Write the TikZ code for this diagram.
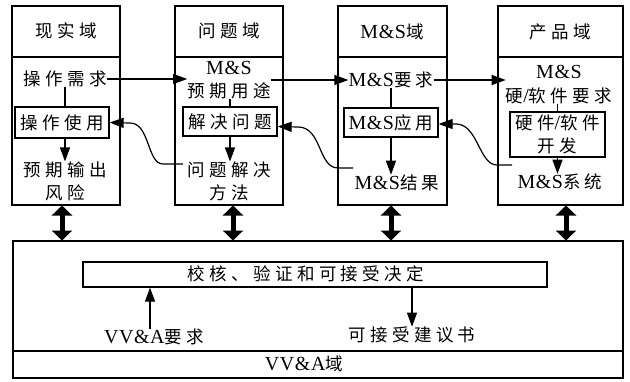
\documentclass[tikz,border=0pt]{standalone}
\usepackage{fontspec}
\setmainfont{Liberation Serif}[Scale=1.14,LetterSpace=3]
\newfontfamily\cjk{Noto Sans CJK SC}[LetterSpace=25]
\usetikzlibrary{arrows.meta,calc}
\newcommand\zh[1]{{\cjk #1}}
\begin{document}
\begin{tikzpicture}[x=1pt,y=-1pt,
  txt/.style={inner sep=0pt, font=\fontsize{17.5}{23.5}\selectfont, align=center},
  hdr/.style={draw, line width=1.4pt, inner sep=0pt, minimum width=108pt, minimum height=51pt},
  body/.style={draw, line width=1.4pt, inner sep=0pt, minimum width=108pt, minimum height=148pt},
  inbox/.style={txt, draw, line width=1.3pt},
  ln/.style={line width=1.2pt},
  arr/.style={line width=1.2pt, -{Triangle[length=14pt,width=10pt]}},
  dbl/.style={line width=5pt, {Triangle[length=10pt,width=20pt]}-{Triangle[length=10pt,width=20pt]}}]
\useasboundingbox (0,0) rectangle (630,381);
% columns
\node[hdr] (c1h) at (66,31.5) {};
\node[body] (c1b) at (66,131) {};
\node[hdr] (c2h) at (229,31.5) {};
\node[body] (c2b) at (229,131) {};
\node[hdr, minimum width=109pt] (c3h) at (392.5,31.5) {};
\node[body, minimum width=109pt] (c3b) at (392.5,131) {};
\node[hdr, minimum width=125pt] (c4h) at (560.5,31.5) {};
\node[body, minimum width=125pt] (c4b) at (560.5,131) {};
% headers
\node[txt] (t1h) at (66,31) {\zh{现实域}};
\node[txt] (t2h) at (229,31) {\zh{问题域}};
\node[txt] (t3h) at (392,32) {M\&S\zh{域}};
\node[txt] (t4h) at (560,32) {\zh{产品域}};
% column 1
\node[txt] (c1req) at (65,79) {\zh{操作需求}};
\node[inbox, minimum width=94pt, minimum height=31pt] (c1box) at (62,122.5) {\zh{操作使用}};
\node[txt] (c1out) at (65,181.5) {\zh{预期输出}\\\zh{风险}};
% column 2
\node[txt] (c2req) at (229,80) {M\&S\\\zh{预期用途}};
\node[inbox, minimum width=94pt, minimum height=29pt] (c2box) at (230,121.5) {\zh{解决问题}};
\node[txt] (c2out) at (229,181.5) {\zh{问题解决}\\\zh{方法}};
% column 3
\node[txt] (c3req) at (391,80) {M\&S\zh{要求}};
\node[inbox, minimum width=94pt, minimum height=29pt] (c3box) at (391,122.5) {M\&S\zh{应用}};
\node[txt] (c3out) at (397,183) {M\&S\zh{结果}};
% column 4
\node[txt] (c4req) at (559,84.5) {M\&S\\\zh{硬}/\zh{软件要求}};
\node[inbox, minimum width=95pt, minimum height=45pt] (c4box) at (557.5,134.5) {\zh{硬件}/\zh{软件}\\\zh{开发}};
\node[txt] (c4out) at (560,182) {M\&S\zh{系统}};
% VV&A domain
\node[draw, line width=1.3pt, inner sep=0pt, minimum width=610pt, minimum height=110pt] (bigb) at (318,296) {};
\node[draw, line width=1.3pt, inner sep=0pt, minimum width=610pt, minimum height=27pt] (bigf) at (318,364.5) {};
\node[txt] (vvdom) at (304,364) {VV\&A\zh{域}};
\node[draw, line width=1.3pt, inner sep=0pt, minimum width=464pt, minimum height=25pt] (vvbox) at (315,274.5) {};
\node[txt] (vvtxt) at (306,274) {\zh{校核、验证和可接受决定}};
\node[txt] (vvreq) at (154,337) {VV\&A\zh{要求}};
\node[txt] (accept) at (412,335) {\zh{可接受建议书}};
% horizontal arrows
\draw[arr] (c1req.east) -- (c1req.east -| c2req.west);
\draw[arr] (c2req.east) -- (c2req.east -| c3req.west);
\draw[arr] (c3req.east) -- (c3req.east -| c4req.west);
% vertical flow in columns
\draw[ln] (c1req.south) -- (c1req.south |- c1box.north);
\draw[arr] (c1req.south |- c1box.south) -- (c1req.south |- c1out.north);
\draw[ln] (c2box.north |- c2req.south) -- (c2box.north);
\draw[arr] (c2box.south) -- (c2box.south |- c2out.north);
\draw[ln] (c3box.north |- c3req.south) -- (c3box.north);
\draw[arr] (c3box.south) -- (c3box.south |- c3out.north);
\draw[ln] (c4box.north |- c4req.south) -- (c4box.north);
\draw[arr] (c4box.south) -- (c4box.south |- c4out.north);
% feedback curves
\coordinate (s1) at (183,164);
\coordinate (s2) at (353,168);
\coordinate (s3) at (512,165);
\draw[arr] (s1) -- (163,164) .. controls (147,164) and (150,123) .. (130,123) -- (c1box.east);
\draw[arr] (s2) -- (338,168) .. controls (318,168) and (322,127) .. (298,127) -- ($(c2box.east)+(0,5)$);
\draw[arr] (s3) -- (497,165) .. controls (479,165) and (478,124) .. (456,124) -- ($(c3box.east)+(0,1.5)$);
% double arrows
\foreach \c/\x in {c1b/62,c2b/233,c3b/391,c4b/566}
  \draw[dbl] (\x,205.5) -- (\x,240.5);
% VV&A internal arrows
\draw[arr] (vvreq.north -| 150,0) -- (vvbox.south -| 150,0);
\draw[arr] (vvbox.south -| accept.north) -- (accept.north);
\end{tikzpicture}
\end{document}
